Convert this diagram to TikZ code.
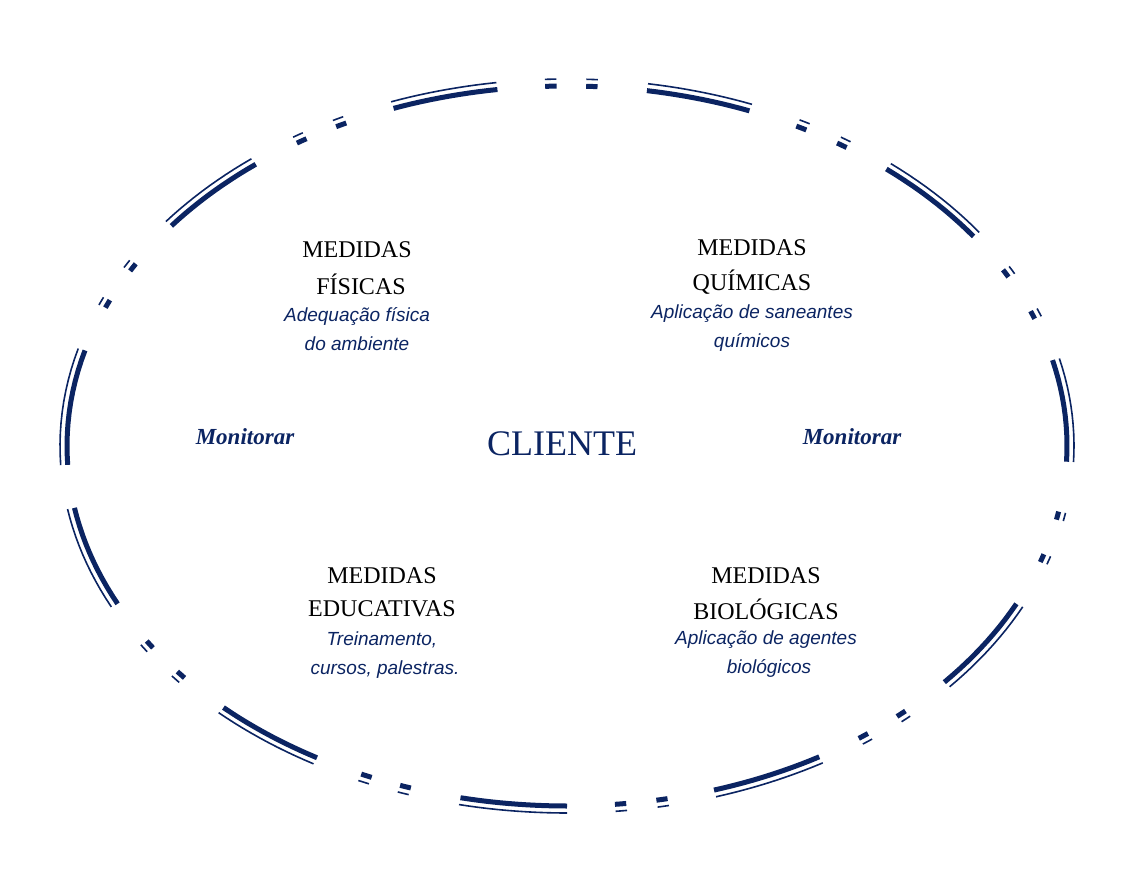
\documentclass[tikz,border=0pt]{standalone}
\usepackage{fontspec}
\setmainfont{Liberation Serif}
\newfontfamily\subf{Liberation Sans}
\definecolor{navy}{HTML}{0B2462}
\begin{document}
\begin{tikzpicture}[x=1pt,y=-1pt,
  inner/.style={navy,line width=5pt},
  outer/.style={navy,line width=1.6pt},
  head/.style={font=\fontsize{24}{26}\selectfont,text=black},
  sub/.style={font=\subf\itshape\fontsize{19}{21}\selectfont,text=navy},
  mon/.style={font=\bfseries\itshape\fontsize{23}{25}\selectfont,text=navy}]
\useasboundingbox (0,0) rectangle (1137,891);
\coordinate (c) at (567,446);
\foreach \a/\b in {98/110.3, 80.8/68.6, 50.3/35.6, 13.8/-2.5, -26/-41, -59.7/-72.9,
  -90/-102.3, -120/-133.4, 206/189.9, 183/164.6, 142.3/128.5,
  92.5/91.2, 87.8/86.5, 62.7/61.4, 57.3/56, 29.3/28, 22/20.7, -10.5/-11.8, -17.5/-18.8,
  -47.4/-48.7, -53/-54.3, -78.4/-79.7, -83.2/-84.5, -108.2/-109.5, -113/-114.3,
  -139.9/-141.2, -145.9/-147.2, 157.4/156.1, 150.9/149.6, 122.7/121.4, 117.5/116.2}{
  \draw[inner] plot[domain=\a:\b,samples=12] ({567+500*cos(\x)},{446-360*sin(\x)});
  \draw[outer] plot[domain=\a:\b,samples=12] ({567+507*cos(\x)},{446-367*sin(\x)});
}
\node[head] (f1) at (357,250) {MEDIDAS};
\node[head] (f2) at (361,284) {FÍSICAS};
\node[sub] (f3) at (357,316) {Adequação física};
\node[sub] (f4) at (357,344) {do ambiente};
\node[head] (q1) at (752,248) {MEDIDAS};
\node[head] (q2) at (752,282) {QUÍMICAS};
\node[sub] (q3) at (752,314) {Aplicação de saneantes};
\node[sub] (q4) at (752,342) {químicos};
\node[head] (e1) at (382,576) {MEDIDAS};
\node[head] (e2) at (382,609) {EDUCATIVAS};
\node[sub] (e3) at (382,640) {Treinamento,};
\node[sub] (e4) at (385,670) {cursos, palestras.};
\node[head] (b1) at (766,576) {MEDIDAS};
\node[head] (b2) at (766,609) {BIOLÓGICAS};
\node[sub] (b3) at (766,640) {Aplicação de agentes};
\node[sub] (b4) at (769,668) {biológicos};
\node[mon] (m1) at (245,437) {Monitorar};
\node[mon] (m2) at (852,437) {Monitorar};
\node[font=\fontsize{36}{38}\selectfont,text=navy] (cl) at (562,444) {CLIENTE};
\end{tikzpicture}
\end{document}
